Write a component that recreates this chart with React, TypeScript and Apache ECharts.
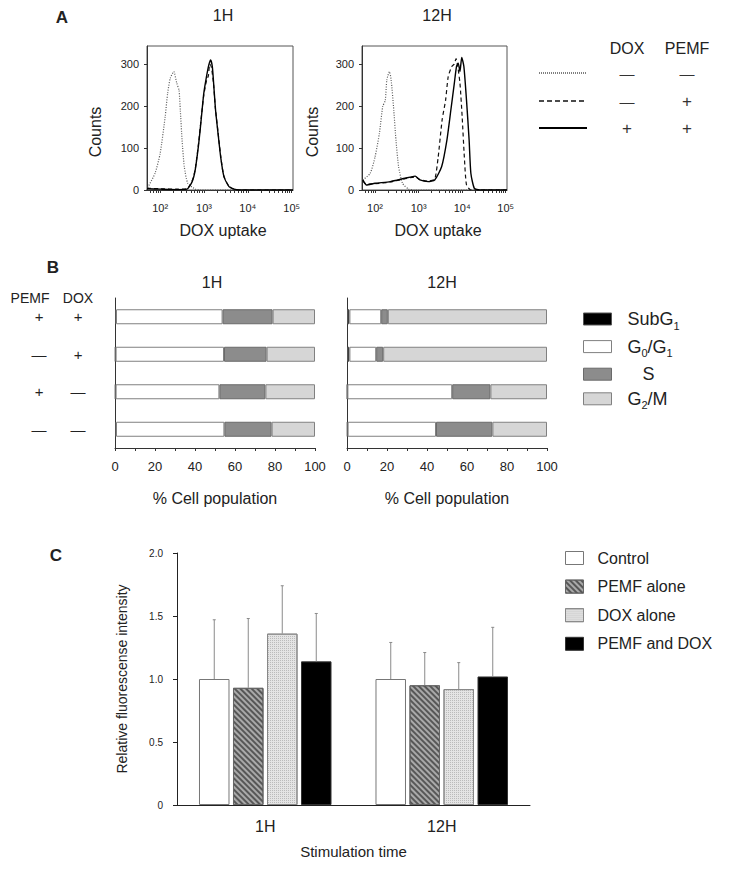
import React, { useEffect, useRef } from 'react';
import * as echarts from 'echarts';

const FONT = '"Liberation Sans", Arial, Helvetica, sans-serif';

// ---------- Panel A: flow cytometry histograms (x = log10 DOX uptake, y = counts) ----------
const hist1H_dotted: number[][] = [
  [1.7, 0], [1.73, 8], [1.885, 40], [2.0, 87], [2.115, 175], [2.17, 230], [2.23, 266], [2.31, 282],
  [2.38, 254], [2.43, 238], [2.46, 190], [2.5, 119], [2.55, 56], [2.63, 16], [2.8, 2], [2.9, 0], [5.03, 0],
];
const hist1H_dashed: number[][] = [
  [1.7, 4], [2.0, 3], [2.4, 2], [2.61, 3], [2.73, 22], [2.8, 50], [2.88, 115], [2.935, 170], [2.995, 226],
  [3.06, 262], [3.1, 272], [3.13, 300], [3.17, 292], [3.22, 250], [3.26, 195], [3.32, 138], [3.38, 82],
  [3.45, 34], [3.57, 9], [3.68, 2], [3.8, 0], [5.03, 0],
];
const hist1H_solid: number[][] = [
  [1.7, 3], [2.0, 2], [2.4, 1], [2.61, 2], [2.73, 20], [2.8, 48], [2.88, 111], [2.935, 167], [2.995, 230],
  [3.057, 270], [3.11, 298], [3.15, 310], [3.19, 294], [3.225, 246], [3.264, 190], [3.32, 135], [3.38, 79],
  [3.455, 32], [3.57, 8], [3.685, 2], [3.8, 0], [5.03, 0],
];
const hist12H_dotted: number[][] = [
  [1.72, 24], [1.89, 40], [2.0, 79], [2.1, 135], [2.175, 198], [2.235, 214], [2.27, 262], [2.33, 282],
  [2.37, 262], [2.43, 190], [2.48, 119], [2.54, 56], [2.63, 16], [2.77, 2], [2.9, 0], [5.03, 0],
];
const hist12H_dashed: number[][] = [
  [1.72, 22], [1.8, 14], [2.0, 15], [2.35, 19], [2.69, 27], [2.92, 31], [3.03, 25], [3.22, 21], [3.37, 26],
  [3.45, 79], [3.54, 167], [3.62, 214], [3.68, 270], [3.76, 294], [3.82, 300], [3.86, 313], [3.9, 294],
  [3.95, 254], [4.0, 175], [4.05, 79], [4.1, 12], [4.2, 0], [5.03, 0],
];
const hist12H_solid: number[][] = [
  [1.72, 24], [1.8, 12], [2.0, 16], [2.35, 20], [2.69, 28], [2.92, 33], [3.03, 24], [3.22, 20], [3.37, 24],
  [3.53, 56], [3.65, 119], [3.74, 190], [3.82, 254], [3.87, 294], [3.91, 302], [3.95, 282], [3.99, 316],
  [4.04, 294], [4.1, 214], [4.16, 119], [4.2, 40], [4.28, 4], [4.4, 0], [5.03, 0],
];
const logDecades = [2, 3, 4, 5];
const logTickLabels = ['10²', '10³', '10⁴', '10⁵'];
const logMinorMultipliers = [2, 3, 4, 5, 6, 7, 8, 9];
const countTicks = [0, 100, 200, 300];

// ---------- Panel B: cell cycle distribution (% cell population) ----------
const rowCategories = ['+|+', '—|+', '+|—', '—|—']; // PEMF | DOX
const phaseNames = ['SubG1', 'G0/G1', 'S', 'G2/M'];
const subG1_1H = [0.5, 0.3, 0.3, 0.5];
const g0g1_1H = [53.3, 54.2, 51.9, 54.2];
const s_1H = [25.0, 21.3, 23.0, 23.6];
const g2m_1H = [21.2, 24.2, 24.8, 21.7];
const subG1_12H = [1.2, 1.2, 0.2, 0.3];
const g0g1_12H = [15.9, 13.4, 52.4, 44.2];
const s_12H = [3.3, 3.5, 19.1, 28.2];
const g2m_12H = [79.6, 81.9, 28.3, 27.3];

// ---------- Panel C: relative fluorescence intensity ----------
const timeCategories = ['1H', '12H'];
const groupNames = ['Control', 'PEMF alone', 'DOX alone', 'PEMF and DOX'];
const controlMean = [1.0, 1.0];
const pemfMean = [0.93, 0.95];
const doxMean = [1.36, 0.92];
const bothMean = [1.14, 1.02];
const controlSD = [0.47, 0.29];
const pemfSD = [0.55, 0.26];
const doxSD = [0.38, 0.21];
const bothSD = [0.38, 0.39];

const TXT = '#222';

function logTickValues(min: number, max: number): number[] {
  const out: number[] = [];
  for (let d = 1; d <= 5; d++) {
    out.push(d);
    for (const m of logMinorMultipliers) out.push(d + Math.log10(m));
  }
  return out.filter((v) => v >= min && v <= max);
}

function buildOption(): any {
  const xMin = 1.7, xMax = 5.03;
  const histX = (gi: number) => ({
    type: 'value', gridIndex: gi, min: xMin, max: xMax,
    axisLine: { show: true, lineStyle: { color: '#333' } },
    axisTick: { show: true, length: 3, inside: false, customValues: logTickValues(xMin, xMax), lineStyle: { color: '#333' } },
    axisLabel: {
      customValues: logDecades, margin: 12, fontSize: 11, color: TXT, fontFamily: FONT,
      formatter: (v: number) => logTickLabels[logDecades.indexOf(Math.round(v))] ?? '',
    },
    splitLine: { show: false },
  });
  const histY = (gi: number) => ({
    type: 'value', gridIndex: gi, min: 0, max: 343,
    axisLine: { show: true, lineStyle: { color: '#333' } },
    axisTick: { show: true, length: 3, customValues: countTicks, lineStyle: { color: '#333' } },
    axisLabel: { customValues: countTicks, margin: 8, fontSize: 11, color: TXT, fontFamily: FONT },
    splitLine: { show: false },
  });
  const bX = (gi: number) => ({
    type: 'value', gridIndex: gi, min: 0, max: 100, interval: 20,
    name: '% Cell population', nameLocation: 'middle', nameGap: 42,
    nameTextStyle: { fontSize: 16, color: TXT, fontFamily: FONT },
    axisLine: { show: true, lineStyle: { color: '#333' } },
    axisTick: { show: true, length: 3, lineStyle: { color: '#333' } },
    minorTick: { show: true, splitNumber: 2, length: 3, lineStyle: { color: '#333' } },
    axisLabel: { margin: 12, fontSize: 13, color: TXT, fontFamily: FONT },
    splitLine: { show: false },
  });
  const bY = (gi: number, showLabels: boolean) => ({
    type: 'category', gridIndex: gi, data: rowCategories, inverse: true,
    axisLine: { show: true, lineStyle: { color: '#333' } },
    axisTick: { show: false },
    axisLabel: {
      show: showLabels, margin: 17.5,
      formatter: (v: string) => { const [p, d] = v.split('|'); return `{a|${p}}{b|${d}}`; },
      rich: {
        a: { width: 39, align: 'center', fontSize: 15, color: TXT, fontFamily: FONT },
        b: { width: 39, align: 'center', fontSize: 15, color: TXT, fontFamily: FONT },
      },
    },
  });

  const phaseStyles = [
    { color: '#000000', borderColor: '#555', borderWidth: 1 },
    { color: '#ffffff', borderColor: '#808080', borderWidth: 1 },
    { color: '#8c8c8c', borderColor: '#6a6a6a', borderWidth: 1 },
    { color: '#d6d6d6', borderColor: '#808080', borderWidth: 1 },
  ];
  const phase1H = [subG1_1H, g0g1_1H, s_1H, g2m_1H];
  const phase12H = [subG1_12H, g0g1_12H, s_12H, g2m_12H];
  const bSeries: any[] = [];
  phaseNames.forEach((name, i) => {
    bSeries.push({
      type: 'bar', name, xAxisIndex: 2, yAxisIndex: 2, stack: 'b1', barWidth: 15,
      data: phase1H[i], itemStyle: phaseStyles[i], silent: true,
    });
  });
  phaseNames.forEach((name, i) => {
    bSeries.push({
      type: 'bar', name, xAxisIndex: 3, yAxisIndex: 3, stack: 'b2', barWidth: 15,
      data: phase12H[i], itemStyle: phaseStyles[i], silent: true,
    });
  });

  const lineStyleDotted = { color: '#5a5a5a', width: 1.2, type: [1, 1.5] };
  const lineStyleDashed = { color: '#111', width: 1.2, type: [4, 3] };
  const lineStyleSolid = { color: '#000', width: 1.4, type: 'solid' };
  const histSeries = [
    { d: hist1H_dotted, g: 0, ls: lineStyleDotted, n: 'DOX− PEMF−' },
    { d: hist1H_dashed, g: 0, ls: lineStyleDashed, n: 'DOX− PEMF+' },
    { d: hist1H_solid, g: 0, ls: lineStyleSolid, n: 'DOX+ PEMF+' },
    { d: hist12H_dotted, g: 1, ls: lineStyleDotted, n: 'DOX− PEMF−' },
    { d: hist12H_dashed, g: 1, ls: lineStyleDashed, n: 'DOX− PEMF+' },
    { d: hist12H_solid, g: 1, ls: lineStyleSolid, n: 'DOX+ PEMF+' },
  ].map((s) => ({
    type: 'line', name: s.n, xAxisIndex: s.g, yAxisIndex: s.g, data: s.d,
    showSymbol: false, symbol: 'none', smooth: 0.2, lineStyle: s.ls, silent: true, clip: true,
  }));

  const cMeans = [controlMean, pemfMean, doxMean, bothMean];
  const cSDs = [controlSD, pemfSD, doxSD, bothSD];
  const cStyles: any[] = [
    { color: '#ffffff', borderColor: '#777', borderWidth: 1 },
    {
      color: '#a9a9a9', borderColor: '#666', borderWidth: 1,
      decal: { symbol: 'rect', symbolSize: 1, dashArrayX: [1, 0], dashArrayY: [2, 2], rotation: Math.PI / 4, color: 'rgba(60,60,60,0.75)' },
    },
    {
      color: '#e4e4e4', borderColor: '#888', borderWidth: 1,
      decal: { symbol: 'rect', symbolSize: 1, dashArrayX: [1, 1], dashArrayY: [1, 1], color: 'rgba(170,170,170,0.7)' },
    },
    { color: '#000000', borderColor: '#333', borderWidth: 1 },
  ];
  const cSeries = groupNames.map((name, i) => ({
    type: 'bar', name, xAxisIndex: 4, yAxisIndex: 4, data: cMeans[i],
    barWidth: 30.5, barGap: '11.5%', itemStyle: cStyles[i], silent: true,
  }));
  const errData: number[][] = [];
  groupNames.forEach((_, k) => {
    timeCategories.forEach((__, j) => {
      errData.push([j, cMeans[k][j], cMeans[k][j] + cSDs[k][j], k]);
    });
  });
  const errSeries = {
    type: 'custom', name: 'SD', xAxisIndex: 4, yAxisIndex: 4, data: errData, silent: true, z: 5,
    encode: { x: 0, y: [1, 2] },
    renderItem: (params: any, api: any) => {
      const cat = api.value(0), lo = api.value(1), hi = api.value(2), k = api.value(3);
      const p0 = api.coord([cat, lo]);
      const p1 = api.coord([cat, hi]);
      const x = p0[0] + (k - 1.5) * 34;
      const st = { stroke: '#8a8a8a', lineWidth: 1 };
      return {
        type: 'group', children: [
          { type: 'line', shape: { x1: x, y1: p0[1], x2: x, y2: p1[1] }, style: st },
          { type: 'line', shape: { x1: x - 1.5, y1: p1[1], x2: x + 1.5, y2: p1[1] }, style: st },
        ],
      };
    },
  };

  const t = (text: string, x: number, y: number, size: number, extra: any = {}) => ({
    type: 'text', x, y, silent: true, ...extra,
    style: {
      text, fill: extra.fill ?? TXT, fontSize: size, fontFamily: FONT, fontWeight: extra.bold ? 'bold' : 'normal',
      align: extra.align ?? 'center', verticalAlign: 'middle',
      textAlign: extra.align ?? 'center', textVerticalAlign: 'middle',
    },
  });

  const graphics: any[] = [
    t('A', 62, 17, 17, { bold: true }),
    t('B', 53, 267, 17, { bold: true }),
    t('C', 56, 555, 17, { bold: true }),
    t('1H', 223, 15, 16),
    t('12H', 437, 15, 16),
    t('Counts', 95, 132, 16, { rotation: Math.PI / 2 }),
    t('Counts', 312, 132, 16, { rotation: Math.PI / 2 }),
    t('DOX uptake', 223, 230, 16),
    t('DOX uptake', 438, 230, 16),
    // panel A legend
    t('DOX', 627, 48, 16),
    t('PEMF', 687, 48, 16),
    t('—', 627, 73, 15, { fill: '#333' }),
    t('—', 687, 73, 15, { fill: '#333' }),
    t('—', 627, 101, 15, { fill: '#333' }),
    t('+', 687, 101, 17, { fill: '#333' }),
    t('+', 627, 128, 17, { fill: '#333' }),
    t('+', 687, 128, 17, { fill: '#333' }),
    { type: 'line', silent: true, shape: { x1: 539, y1: 73, x2: 587, y2: 73 }, style: { stroke: '#555', lineWidth: 1.5, lineDash: [1, 1] } },
    { type: 'line', silent: true, shape: { x1: 539, y1: 101, x2: 587, y2: 101 }, style: { stroke: '#111', lineWidth: 1.5, lineDash: [5, 3] } },
    { type: 'line', silent: true, shape: { x1: 539, y1: 128, x2: 587, y2: 128 }, style: { stroke: '#000', lineWidth: 2.2 } },
    // panel B headers
    t('1H', 212, 282, 16),
    t('12H', 442, 282, 16),
    t('PEMF', 30, 298, 14),
    t('DOX', 78, 298, 14),
  ];

  return {
    animation: false,
    backgroundColor: '#ffffff',
    textStyle: { fontFamily: FONT, color: TXT },
    grid: [
      { left: 147, top: 46, width: 146, height: 144, show: true, borderColor: '#555', borderWidth: 1, backgroundColor: 'transparent' },
      { left: 362, top: 46, width: 145, height: 144, show: true, borderColor: '#555', borderWidth: 1, backgroundColor: 'transparent' },
      { left: 115, top: 298, width: 200, height: 150 },
      { left: 347, top: 298, width: 200, height: 150 },
      { left: 177, top: 553, width: 353, height: 252 },
    ],
    xAxis: [
      histX(0), histX(1), bX(2), bX(3),
      {
        type: 'category', gridIndex: 4, data: timeCategories,
        name: 'Stimulation time', nameLocation: 'middle', nameGap: 39,
        nameTextStyle: { fontSize: 15, color: TXT, fontFamily: FONT },
        axisLine: { show: true, lineStyle: { color: '#222' } },
        axisTick: { show: false },
        axisLabel: { margin: 13, fontSize: 16, color: TXT, fontFamily: FONT },
      },
    ],
    yAxis: [
      histY(0), histY(1), bY(2, true), bY(3, false),
      {
        type: 'value', gridIndex: 4, min: 0, max: 2, interval: 0.5,
        name: 'Relative fluorescense intensity', nameLocation: 'middle', nameGap: 48,
        nameTextStyle: { fontSize: 14, color: TXT, fontFamily: FONT },
        axisLine: { show: true, lineStyle: { color: '#222' } },
        axisTick: { show: true, length: 4, lineStyle: { color: '#222' } },
        axisLabel: { margin: 14, fontSize: 10, color: TXT, fontFamily: FONT, formatter: (v: number) => (v === 0 ? '0' : v.toFixed(1)) },
        splitLine: { show: false },
      },
    ],
    legend: [
      {
        data: phaseNames, orient: 'vertical', left: 578, top: 305, itemWidth: 28, itemHeight: 12, itemGap: 6.6,
        icon: 'rect', selectedMode: false, itemStyle: { borderWidth: 1 },
        formatter: (name: string) => {
          if (name === 'SubG1') return '{m|SubG}{b|1}';
          if (name === 'G0/G1') return '{m|G}{b|0}{n|/G}{b|1}';
          if (name === 'S') return '{s|S}';
          return '{m|G}{b|2}{n|/M}';
        },
        textStyle: {
          rich: {
            m: { fontSize: 18, lineHeight: 24, padding: [0, 0, 0, 11], color: TXT, fontFamily: FONT },
            n: { fontSize: 18, lineHeight: 24, color: TXT, fontFamily: FONT },
            b: { fontSize: 11, lineHeight: 10, verticalAlign: 'bottom', color: TXT, fontFamily: FONT },
            s: { fontSize: 18, lineHeight: 24, width: 64, align: 'center', color: TXT, fontFamily: FONT },
          },
        },
      },
      {
        data: groupNames, orient: 'vertical', left: 560, top: 545, itemWidth: 18, itemHeight: 13, itemGap: 12.6,
        icon: 'rect', selectedMode: false, itemStyle: { borderWidth: 1 },
        formatter: (name: string) => `{t|${name}}`,
        textStyle: { rich: { t: { fontSize: 16, lineHeight: 20, padding: [0, 0, 0, 9], color: TXT, fontFamily: FONT } } },
      },
    ],
    graphic: graphics,
    series: [...histSeries, ...bSeries, ...cSeries, errSeries],
  };
}

export default function App() {
  const ref = useRef<HTMLDivElement>(null);
  useEffect(() => {
    if (!ref.current) return;
    const chart = echarts.init(ref.current, undefined, { renderer: 'svg' });
    chart.setOption(buildOption());
    return () => chart.dispose();
  }, []);
  return <div ref={ref} style={{ position: 'absolute', left: 0, top: 0, width: 733, height: 876 }} />;
}
